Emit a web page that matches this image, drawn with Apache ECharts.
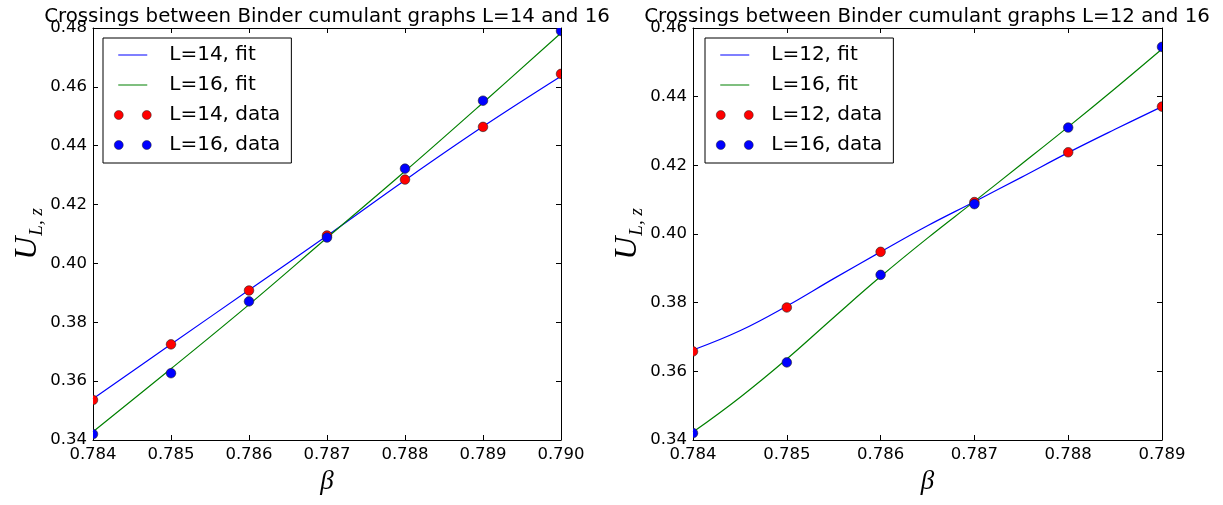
<!DOCTYPE html>
<html>
<head>
<meta charset="utf-8">
<title>Binder cumulant crossings</title>
<script src="https://cdn.jsdelivr.net/npm/echarts@6/dist/echarts.min.js"></script>
<style>
  html, body { margin: 0; padding: 0; background: #fff; }
  #chart { width: 1223px; height: 505px; }
</style>
</head>
<body>
<div id="chart"></div>
<script>
// ---- Left panel: L=14 vs L=16 ----
const betaLeft = [0.784, 0.785, 0.786, 0.787, 0.788, 0.789, 0.790];
const u14Data = [0.3536, 0.3725, 0.3908, 0.4095, 0.4285, 0.4464, 0.4644];
const u16DataLeft = [0.3420, 0.3627, 0.3871, 0.4088, 0.4322, 0.4553, 0.4790];
const u14Fit = [0.3540, 0.3725, 0.3910, 0.4094, 0.4283, 0.4465, 0.4636];
const u16FitLeft = [0.3428, 0.3642, 0.3860, 0.4087, 0.4313, 0.4546, 0.4783];

// ---- Right panel: L=12 vs L=16 ----
const betaRight = [0.784, 0.785, 0.786, 0.787, 0.788, 0.789];
const u12Data = [0.3658, 0.3786, 0.3948, 0.4093, 0.4238, 0.4371];
const u16DataRight = [0.3420, 0.3626, 0.3881, 0.4087, 0.4310, 0.4545];
const betaFitRight = [0.784, 0.7845, 0.785, 0.7855, 0.786, 0.7865, 0.787, 0.7875, 0.788, 0.7885, 0.789];
const u12Fit = [0.3662, 0.3718, 0.3790, 0.3870, 0.3948, 0.4024, 0.4094, 0.4165, 0.4237, 0.4305, 0.4371];
const u16FitRight = [0.3423, 0.3524, 0.3636, 0.3757, 0.3876, 0.3988, 0.4095, 0.4203, 0.4312, 0.4424, 0.4539];

// ---- Titles and axis scales ----
const titles = [
  'Crossings between Binder cumulant graphs L=14 and 16',
  'Crossings between Binder cumulant graphs L=12 and 16'
];
const xRangeLeft = { min: 0.784, max: 0.790, interval: 0.001 };
const xRangeRight = { min: 0.784, max: 0.789, interval: 0.001 };
const yRangeLeft = { min: 0.34, max: 0.48, interval: 0.02 };
const yRangeRight = { min: 0.34, max: 0.46, interval: 0.02 };

const zip = (xs, ys) => xs.map((x, i) => [x, ys[i]]);

const SANS = 'DejaVu Sans';
const MATH = 'Liberation Serif';
const BLUE = '#0000ff', GREEN = '#008000', RED = '#ff0000';
const EDGE = '#222222';

const lineIcon = 'path://M0,0M4,4.5L33,4.5L33,5.5L4,5.5ZM50,10';
const dotsIcon = 'path://M0,0M0,5a4.5,4.5 0 1,0 9,0a4.5,4.5 0 1,0 -9,0M28,5a4.5,4.5 0 1,0 9,0a4.5,4.5 0 1,0 -9,0M50,10';

const axisLineStyle = { show: true, onZero: false, lineStyle: { color: '#000', width: 1 } };
const axisTickStyle = { show: true, inside: true, length: 5, lineStyle: { color: '#000' } };

function bottomAxis(gridIndex, r) {
  return {
    type: 'value', gridIndex, position: 'bottom', min: r.min, max: r.max, interval: r.interval,
    name: 'β', nameLocation: 'middle', nameGap: 28,
    nameTextStyle: { fontFamily: MATH, fontStyle: 'italic', fontSize: 27, color: '#000' },
    axisLine: axisLineStyle, axisTick: axisTickStyle,
    axisLabel: { show: true, margin: 6, color: '#000', fontFamily: SANS, fontSize: 16.5,
      formatter: v => v.toFixed(3) },
    splitLine: { show: false }
  };
}
function topAxis(gridIndex, r) {
  return {
    type: 'value', gridIndex, position: 'top', min: r.min, max: r.max, interval: r.interval,
    axisLine: axisLineStyle, axisTick: axisTickStyle,
    axisLabel: { show: false }, splitLine: { show: false }
  };
}
function leftAxis(gridIndex, r) {
  return {
    type: 'value', gridIndex, position: 'left', min: r.min, max: r.max, interval: r.interval,
    name: '{u|U}{s|L, z}', nameLocation: 'middle', nameGap: 46, nameRotate: 90,
    nameTextStyle: {
      rich: {
        u: { fontFamily: MATH, fontStyle: 'italic', fontSize: 32, color: '#000', lineHeight: 38, verticalAlign: 'middle' },
        s: { fontFamily: MATH, fontStyle: 'italic', fontSize: 19, color: '#000', lineHeight: 38, verticalAlign: 'bottom', padding: [0, 0, 0, 1] }
      }
    },
    axisLine: axisLineStyle, axisTick: axisTickStyle,
    axisLabel: { show: true, margin: 6, color: '#000', fontFamily: SANS, fontSize: 16.5,
      formatter: v => v.toFixed(2) },
    splitLine: { show: false }
  };
}
function rightAxis(gridIndex, r) {
  return {
    type: 'value', gridIndex, position: 'right', min: r.min, max: r.max, interval: r.interval,
    axisLine: axisLineStyle, axisTick: axisTickStyle,
    axisLabel: { show: false }, splitLine: { show: false }
  };
}

function fitSeries(name, xi, yi, data, color) {
  return {
    name, type: 'line', xAxisIndex: xi, yAxisIndex: yi, data, smooth: 0.4,
    symbol: 'none', clip: true, color,
    lineStyle: { color, width: 1.2 }, z: 2
  };
}
// Data points as circles placed through the axes' coordinate mapping,
// clipped to the plotting area so markers on the frame are cut in half.
function dataSeries(name, xi, yi, data, color) {
  return {
    name, type: 'custom', xAxisIndex: xi, yAxisIndex: yi, data, clip: true, color,
    encode: { x: 0, y: 1 },
    itemStyle: { color, borderColor: EDGE, borderWidth: 0.5 },
    z: 3,
    renderItem: (params, api) => {
      const p = api.coord([api.value(0), api.value(1)]);
      return {
        type: 'circle',
        shape: { cx: p[0], cy: p[1], r: 4.8 },
        style: { fill: color, stroke: EDGE, lineWidth: 0.6 }
      };
    }
  };
}

function legendFor(left, names) {
  return {
    orient: 'vertical', left, top: 38,
    padding: [7, 11, 8, 11], itemGap: 10, itemWidth: 50, itemHeight: 10,
    borderColor: '#000', borderWidth: 1, backgroundColor: '#fff',
    textStyle: { fontFamily: SANS, fontSize: 20, color: '#000', lineHeight: 20 },
    selectedMode: false,
    data: [
      { name: names[0], icon: lineIcon, itemStyle: { color: BLUE, borderWidth: 0, opacity: 1 } },
      { name: names[1], icon: lineIcon, itemStyle: { color: GREEN, borderWidth: 0, opacity: 1 } },
      { name: names[2], icon: dotsIcon, itemStyle: { color: RED, borderColor: EDGE, borderWidth: 0.5, opacity: 1 } },
      { name: names[3], icon: dotsIcon, itemStyle: { color: BLUE, borderColor: EDGE, borderWidth: 0.5, opacity: 1 } }
    ]
  };
}

const titleStyle = { fontFamily: SANS, fontSize: 19.8, fontWeight: 'normal', color: '#000' };

const chart = echarts.init(document.getElementById('chart'), null, { renderer: 'canvas' });
chart.setOption({
  animation: false,
  backgroundColor: '#fff',
  title: [
    { text: titles[0], left: 322, top: 2, textAlign: 'center', textStyle: titleStyle },
    { text: titles[1], left: 922, top: 2, textAlign: 'center', textStyle: titleStyle }
  ],
  grid: [
    { left: 93, top: 28, width: 468, height: 412 },
    { left: 693, top: 28, width: 469, height: 412 }
  ],
  xAxis: [
    bottomAxis(0, xRangeLeft), topAxis(0, xRangeLeft),
    bottomAxis(1, xRangeRight), topAxis(1, xRangeRight)
  ],
  yAxis: [
    leftAxis(0, yRangeLeft), rightAxis(0, yRangeLeft),
    leftAxis(1, yRangeRight), rightAxis(1, yRangeRight)
  ],
  legend: [
    legendFor(103, ['L=14, fit', 'L=16, fit', 'L=14, data', 'L=16, data']),
    legendFor(705, ['L=12, fit', 'L=16, fit', 'L=12, data', 'L=16, data'])
  ],
  series: [
    fitSeries('L=14, fit', 0, 0, zip(betaLeft, u14Fit), BLUE),
    fitSeries('L=16, fit', 0, 0, zip(betaLeft, u16FitLeft), GREEN),
    dataSeries('L=14, data', 0, 0, zip(betaLeft, u14Data), RED),
    dataSeries('L=16, data', 0, 0, zip(betaLeft, u16DataLeft), BLUE),
    fitSeries('L=12, fit', 2, 2, zip(betaFitRight, u12Fit), BLUE),
    fitSeries('L=16, fit', 2, 2, zip(betaFitRight, u16FitRight), GREEN),
    dataSeries('L=12, data', 2, 2, zip(betaRight, u12Data), RED),
    dataSeries('L=16, data', 2, 2, zip(betaRight, u16DataRight), BLUE)
  ]
});
</script>
</body>
</html>
